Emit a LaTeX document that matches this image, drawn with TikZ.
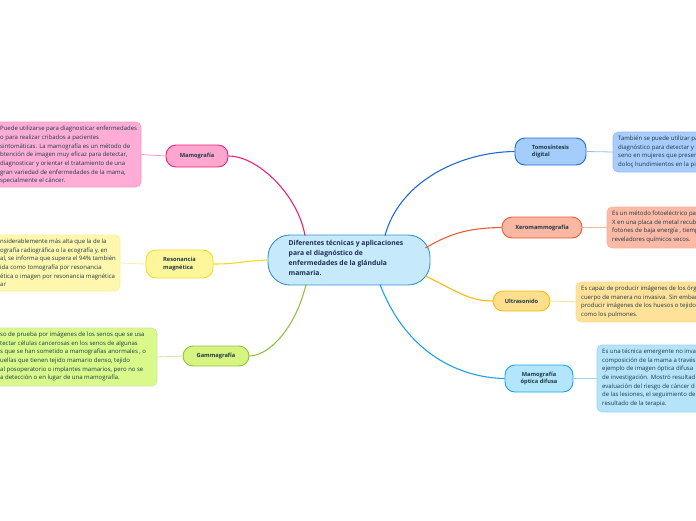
\documentclass[tikz,border=0pt]{standalone}
\usepackage{fontspec}
\setmainfont{Open Sans}
\definecolor{inkdark}{HTML}{1C3A45}
\definecolor{inknavy}{HTML}{1F2D55}
\definecolor{centrefill}{HTML}{C6E9FB}
\definecolor{centreline}{HTML}{3A8FD8}
\definecolor{pinkline}{HTML}{E8237B}
\definecolor{pinkfill}{HTML}{FFA6CF}
\definecolor{pinkleaf}{HTML}{FFADD6}
\definecolor{yelline}{HTML}{F2DC20}
\definecolor{yelfill}{HTML}{FFF59B}
\definecolor{yelleaf}{HTML}{FFF7AD}
\definecolor{grnline}{HTML}{8CC43F}
\definecolor{grnfill}{HTML}{D6F47F}
\definecolor{grnleaf}{HTML}{D9FA8A}
\definecolor{bluline}{HTML}{1E6AD8}
\definecolor{blufill}{HTML}{A5CDFB}
\definecolor{bluleaf}{HTML}{A8CCFB}
\definecolor{redline}{HTML}{EE5A2C}
\definecolor{redfill}{HTML}{FAB7A3}
\definecolor{redleaf}{HTML}{FBB9A6}
\definecolor{orgline}{HTML}{F9B90B}
\definecolor{orgfill}{HTML}{FFDF8C}
\definecolor{orgleaf}{HTML}{FFE199}
\definecolor{skyline}{HTML}{1AA3E6}
\definecolor{skyfill}{HTML}{B3E5FC}
\definecolor{skyleaf}{HTML}{B5E3FA}
\begin{document}
\begin{tikzpicture}[x=1pt,y=-1pt,
  branch/.style={draw=#1line,fill=#1fill,line width=0.9pt,rounded corners=10pt,
    inner sep=0pt,font=\fontsize{5.7}{7.6}\selectfont\bfseries,text=inkdark,align=left},
  leafbox/.style={draw=#1line!45,fill=#1leaf,line width=0.6pt,rounded corners=5pt,inner sep=0pt},
  leaftext/.style={anchor=north west,inner sep=0pt,align=left,text=inkdark,
    font=\fontsize{6}{8.7}\selectfont},
  link/.style={draw=#1line,line width=1.1pt},
  leaflink/.style={draw=#1line!45,line width=0.8pt}]
  \useasboundingbox (0,0) rectangle (696,520);
  \clip (0,0) rectangle (696,520);

  % centre
  \node[draw=centreline,fill=centrefill,line width=0.9pt,rounded corners=22pt,
    minimum width=162pt,minimum height=50pt,inner sep=0pt] (centre) at (349,260) {};
  \node[anchor=north west,inner sep=0pt,align=left,text=inknavy,
    font=\fontsize{6.8}{10}\selectfont\bfseries] (centretext) at (288.5,240.5)
    {Diferentes técnicas y aplicaciones\\para el diagnóstico de\\enfermedades de la glándula\\mamaria.};

  % left branches
  \node[branch=pink,minimum width=62pt,minimum height=22pt,align=center] (mamo) at (197,156) {Mamografía};
  \node[branch=yel,minimum width=67pt,minimum height=28pt] (reso) at (179.5,264) {Resonancia\\magnética};
  \node[branch=grn,minimum width=66pt,minimum height=20pt] (gamma) at (216,356) {Gammagrafía};

  % right branches
  \node[branch=blu,minimum width=71pt,minimum height=27pt] (tomo) at (550.5,151.5) {Tomosíntesis\\digital};
  \node[branch=red,minimum width=80pt,minimum height=21pt] (xero) at (542,227.5) {Xeromammografía};
  \node[branch=org,minimum width=57pt,minimum height=20pt] (ultra) at (521.5,301) {Ultrasonido};
  \node[branch=sky,minimum width=68pt,minimum height=27pt,align=center] (optica) at (539,378.5) {Mamografía\\óptica difusa};

  % leaves
  \node[leafbox=pink,minimum width=161pt,minimum height=65pt] (mamoleaf) at (60.5,154.5) {};
  \node[leaftext] (mamonote) at (0,126) {Puede utilizarse para diagnosticar enfermedades\\
    o para realizar cribados a pacientes\\sintomáticas. La mamografía es un método de\\
    btención de imagen muy eficaz para detectar,\\diagnosticar y orientar el tratamiento de una\\
    gran variedad de enfermedades de la mama,\\specialmente el cáncer.};
  \node[leafbox=yel,minimum width=140pt,minimum height=56pt] (resoleaf) at (50,263) {};
  \node[leaftext] (resonote) at (0,238.5) {nsiderablemente más alta que la de la\\
    ografía radiográfica o la ecografía y, en\\al, se informa que supera el 94\% también\\
    ida como tomografía por resonancia\\ética o imagen por resonancia magnética\\ar};
  \node[leafbox=grn,minimum width=177pt,minimum height=58pt] (gammaleaf) at (68.5,357) {};
  \node[leaftext] (gammanote) at (0,331.5) {so de prueba por imágenes de los senos que se usa\\
    tectar células cancerosas en los senos de algunas\\s que se han sometido a mamografías anormales , o\\
    uellas que tienen tejido mamario denso, tejido\\al posoperatorio o implantes mamarios, pero no se\\
    a detección o en lugar de una mamografía.};
  \node[leafbox=blu,minimum width=107pt,minimum height=40pt] (tomoleaf) at (666.5,152) {};
  \node[leaftext] (tomonote) at (618,135.5) {También se puede utilizar pa\\diagnóstico para detectar y c\\
    seno en mujeres que presen\\doloç hundimientos en la pie};
  \node[leafbox=red,minimum width=113pt,minimum height=41pt] (xeroleaf) at (663.5,227.5) {};
  \node[leaftext] (xeronote) at (612,210.5) {Es un método fotoeléctrico par\\X en una placa de metal recub\\
    fotones de baja energía , tiemp\\reveladores químicos secos.};
  \node[leafbox=org,minimum width=144pt,minimum height=40pt] (ultraleaf) at (648,302) {};
  \node[leaftext] (ultranote) at (581,285.5) {Es capaz de producir imágenes de los órg\\cuerpo de manera no invasiva. Sin embar\\
    producir imágenes de los huesos o tejidos\\como los pulmones.};
  \node[leafbox=sky,minimum width=123pt,minimum height=67pt] (opticaleaf) at (658.5,378.5) {};
  \node[leaftext] (opticanote) at (602,348.5) {Es una técnica emergente no inva\\composición de la mama a través\\
    ejemplo de imagen óptica difusa\\de investigación. Mostró resultad\\evaluación del riesgo de cáncer d\\
    de las lesiones, el seguimiento de\\resultado de la terapia.};

  % links centre -> branches
  \draw[link=pink] ([xshift=-44pt,yshift=-1pt]centre.north) .. controls (298,195) and (258,156) .. (mamo.east);
  \draw[link=yel] (centre.west) .. controls (240,261) and (240,264) .. (reso.east);
  \draw[link=grn] ([xshift=-43pt,yshift=1pt]centre.south) .. controls (295,330) and (268,356) .. (gamma.east);
  \draw[link=blu] ([xshift=36pt,yshift=-1pt]centre.north) .. controls (400,180) and (462,152) .. (tomo.west);
  \draw[link=red] ([xshift=-5pt,yshift=12pt]centre.east) .. controls (452,232) and (472,228) .. (xero.west);
  \draw[link=org] ([xshift=-5pt,yshift=-16pt]centre.east) .. controls (455,290) and (468,301) .. (ultra.west);
  \draw[link=sky] ([xshift=31pt,yshift=1pt]centre.south) .. controls (410,362) and (470,378) .. (optica.west);

  % links branches -> leaves
  \draw[leaflink=pink] (mamo.west) -- (mamoleaf.east);
  \draw[leaflink=yel] (reso.west) -- (resoleaf.east);
  \draw[leaflink=grn] (gamma.west) -- (gammaleaf.east);
  \draw[leaflink=blu] (tomo.east) -- (tomoleaf.west);
  \draw[leaflink=red] (xero.east) -- (xeroleaf.west);
  \draw[leaflink=org] (ultra.east) -- (ultraleaf.west);
  \draw[leaflink=sky] (optica.east) -- (opticaleaf.west);
\end{tikzpicture}
\end{document}
